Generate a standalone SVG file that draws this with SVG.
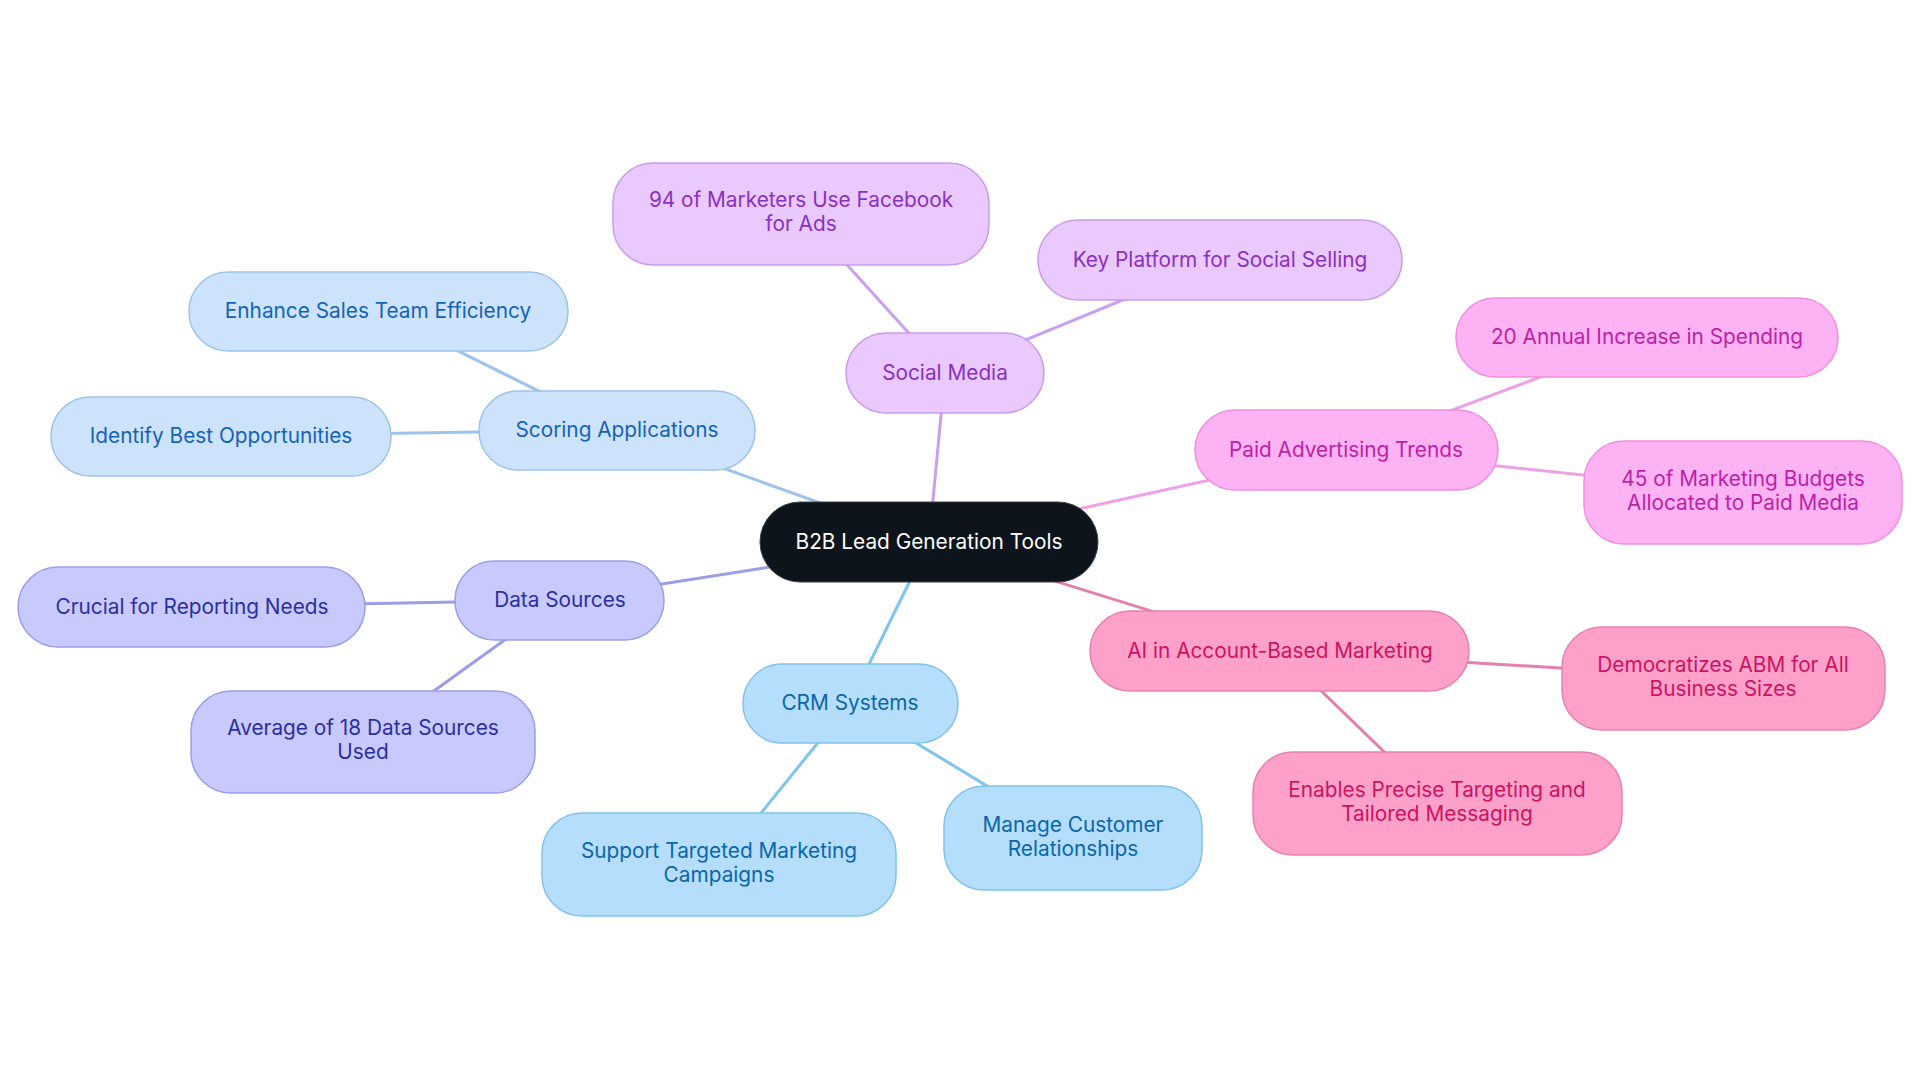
<svg xmlns="http://www.w3.org/2000/svg" width="1920" height="1083" viewBox="0 0 1920 1083">
<style>
text{font-family:Inter,"Noto Sans","Liberation Sans",sans-serif;font-size:20.8px;text-anchor:middle}
.c line{stroke-width:3;stroke-linecap:round}
.root rect{fill:#0e141b;stroke:#3a3f46;stroke-width:1}
.root text{fill:#ffffff}
.sb rect{fill:#cde3fb;stroke:#9cc3ec;stroke-width:1.5}.sb text{fill:#1463b8}
.sm rect{fill:#e9c9fe;stroke:#c99cec;stroke-width:1.5}.sm text{fill:#8b30c4}
.pa rect{fill:#fdb3f3;stroke:#ee90e0;stroke-width:1.5}.pa text{fill:#be1ea8}
.ai rect{fill:#fda1cb;stroke:#e780b1;stroke-width:1.5}.ai text{fill:#cf125f}
.cr rect{fill:#b4defc;stroke:#80c2ec;stroke-width:1.5}.cr text{fill:#0b66aa}
.ds rect{fill:#c8cafd;stroke:#9b9de8;stroke-width:1.5}.ds text{fill:#2c2ea3}
</style>
<rect width="1920" height="1083" fill="#ffffff"/>
<g id="connectors" class="c">
<line x1="929" y1="542" x2="945" y2="373" stroke="#c9a0ee"/>
<line x1="945" y1="373" x2="801" y2="214" stroke="#c9a0ee"/>
<line x1="945" y1="373" x2="1220" y2="260" stroke="#c9a0ee"/>
<line x1="929" y1="542" x2="617" y2="430" stroke="#9cc3ec"/>
<line x1="617" y1="430" x2="378" y2="311" stroke="#9cc3ec"/>
<line x1="617" y1="430" x2="221" y2="436" stroke="#9cc3ec"/>
<line x1="929" y1="542" x2="560" y2="600" stroke="#9b9de6"/>
<line x1="560" y1="600" x2="192" y2="607" stroke="#9b9de6"/>
<line x1="560" y1="600" x2="363" y2="742" stroke="#9b9de6"/>
<line x1="929" y1="542" x2="850" y2="703" stroke="#7fc4ee"/>
<line x1="850" y1="703" x2="719" y2="865" stroke="#7fc4ee"/>
<line x1="850" y1="703" x2="1073" y2="838" stroke="#7fc4ee"/>
<line x1="929" y1="542" x2="1280" y2="651" stroke="#e47fb0"/>
<line x1="1280" y1="651" x2="1723" y2="678" stroke="#e47fb0"/>
<line x1="1280" y1="651" x2="1437" y2="803" stroke="#e47fb0"/>
<line x1="929" y1="542" x2="1346" y2="450" stroke="#f0a0e6"/>
<line x1="1346" y1="450" x2="1647" y2="337" stroke="#f0a0e6"/>
<line x1="1346" y1="450" x2="1743" y2="492" stroke="#f0a0e6"/>
</g>
<g id="root" class="root"><rect x="760" y="502" width="338" height="80" rx="40"/><text x="929" y="549">B2B Lead Generation Tools</text></g>
<g id="social-media" class="sm"><rect x="846" y="333" width="198" height="80" rx="40"/><text x="945" y="380">Social Media</text></g>
<g id="facebook" class="sm"><rect x="613" y="163" width="376" height="102" rx="40"/><text x="801" y="207">94 of Marketers Use Facebook</text><text x="801" y="231">for Ads</text></g>
<g id="social-selling" class="sm"><rect x="1038" y="220" width="364" height="80" rx="40"/><text x="1220" y="267">Key Platform for Social Selling</text></g>
<g id="scoring" class="sb"><rect x="479" y="391" width="276" height="79" rx="39"/><text x="617" y="437">Scoring Applications</text></g>
<g id="enhance" class="sb"><rect x="189" y="272" width="379" height="79" rx="39"/><text x="378" y="318">Enhance Sales Team Efficiency</text></g>
<g id="identify" class="sb"><rect x="51" y="397" width="340" height="79" rx="39"/><text x="221" y="443">Identify Best Opportunities</text></g>
<g id="data-sources" class="ds"><rect x="455" y="561" width="209" height="79" rx="39"/><text x="560" y="607">Data Sources</text></g>
<g id="crucial" class="ds"><rect x="18" y="567" width="347" height="80" rx="40"/><text x="192" y="614">Crucial for Reporting Needs</text></g>
<g id="average" class="ds"><rect x="191" y="691" width="344" height="102" rx="40"/><text x="363" y="735">Average of 18 Data Sources</text><text x="363" y="759">Used</text></g>
<g id="crm" class="cr"><rect x="743" y="664" width="215" height="79" rx="39"/><text x="850" y="710">CRM Systems</text></g>
<g id="support" class="cr"><rect x="542" y="813" width="354" height="103" rx="40"/><text x="719" y="858">Support Targeted Marketing</text><text x="719" y="882">Campaigns</text></g>
<g id="manage" class="cr"><rect x="944" y="786" width="258" height="104" rx="40"/><text x="1073" y="832">Manage Customer</text><text x="1073" y="856">Relationships</text></g>
<g id="ai-abm" class="ai"><rect x="1090" y="611" width="379" height="80" rx="40"/><text x="1280" y="658">AI in Account-Based Marketing</text></g>
<g id="democratizes" class="ai"><rect x="1562" y="627" width="323" height="103" rx="40"/><text x="1723" y="672">Democratizes ABM for All</text><text x="1723" y="696">Business Sizes</text></g>
<g id="enables" class="ai"><rect x="1253" y="752" width="369" height="103" rx="40"/><text x="1437" y="797">Enables Precise Targeting and</text><text x="1437" y="821">Tailored Messaging</text></g>
<g id="paid" class="pa"><rect x="1195" y="410" width="303" height="80" rx="40"/><text x="1346" y="457">Paid Advertising Trends</text></g>
<g id="annual" class="pa"><rect x="1456" y="298" width="382" height="79" rx="39"/><text x="1647" y="344">20 Annual Increase in Spending</text></g>
<g id="budgets" class="pa"><rect x="1584" y="441" width="318" height="103" rx="40"/><text x="1743" y="486">45 of Marketing Budgets</text><text x="1743" y="510">Allocated to Paid Media</text></g>
</svg>
